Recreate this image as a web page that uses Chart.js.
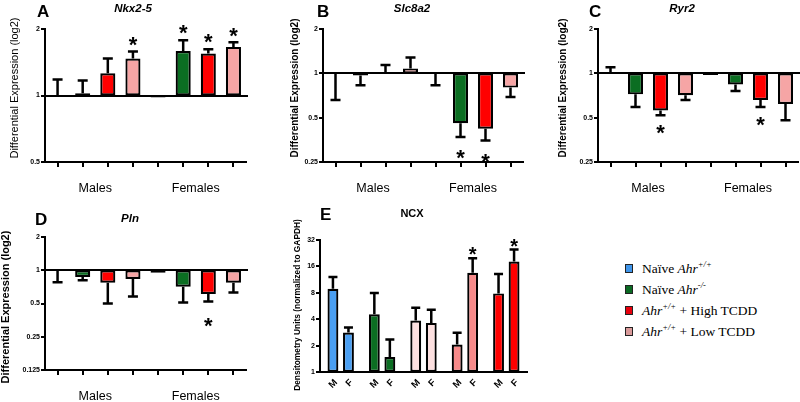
<!DOCTYPE html>
<html>
<head>
<meta charset="utf-8">
<script src="https://cdn.jsdelivr.net/npm/chart.js@4.4.1/dist/chart.umd.min.js"></script>
<style>
  body { margin: 0; background: #fff; width: 800px; height: 402px; position: relative; overflow: hidden; }
  canvas { position: absolute; }
  #legend { position: absolute; left: 625px; top: 258px; font-family: "Liberation Serif", "Times New Roman", serif; font-size: 13.5px; color: #000; }
  #legend .row { height: 21px; display: flex; align-items: center; white-space: nowrap; }
  #legend .sw { width: 6px; height: 7px; border: 1px solid #222; margin-right: 9px; }
  #legend sup { font-size: 8.5px; font-style: italic; position: relative; top: -5px; line-height: 0; vertical-align: baseline; }
</style>
</head>
<body>
<canvas id="chartA" width="265" height="195" style="left:0;top:0"></canvas>
<canvas id="chartB" width="270" height="195" style="left:265px;top:0"></canvas>
<canvas id="chartC" width="270" height="195" style="left:530px;top:0"></canvas>
<canvas id="chartD" width="265" height="207" style="left:0;top:195px"></canvas>
<canvas id="chartE" width="270" height="207" style="left:265px;top:195px"></canvas>
<div id="legend">
  <div class="row"><span class="sw" style="background:#3f95ea"></span>Naïve&nbsp;<i>Ahr</i><sup>+/+</sup></div>
  <div class="row"><span class="sw" style="background:#0b6a23"></span>Naïve&nbsp;<i>Ahr</i><sup>-/-</sup></div>
  <div class="row"><span class="sw" style="background:#e8000d"></span><i>Ahr</i><sup>+/+</sup>&nbsp;+ High TCDD</div>
  <div class="row"><span class="sw" style="background:#d99a9a"></span><i>Ahr</i><sup>+/+</sup>&nbsp;+ Low TCDD</div>
</div>
<script>
// bars: Males (naive +/+, naive -/-, high, low), then Females same order
const bars = ['M1', 'M2', 'M3', 'M4', 'F1', 'F2', 'F3', 'F4'];
const groups = ['Males', 'Females'];

const nkxVals = [1, 1.025, 1.26, 1.47, 0.98, 1.59, 1.55, 1.66];
const nkxErr  = [1.18, 1.17, 1.47, 1.58, 0.98, 1.78, 1.62, 1.74];
const nkxSig  = [0, 0, 0, 1, 0, 1, 1, 1];

const slcVals = [1, 0.965, 1.02, 1.08, 1, 0.458, 0.42, 0.80];
const slcErr  = [0.66, 0.83, 1.14, 1.28, 0.83, 0.37, 0.35, 0.69];
const slcSig  = [0, 0, 0, 0, 0, 1, 1, 0];

const ryrVals = [1, 0.72, 0.56, 0.71, 0.975, 0.84, 0.66, 0.62];
const ryrErr  = [1.10, 0.59, 0.52, 0.66, 0.975, 0.76, 0.59, 0.48];
const ryrSig  = [0, 0, 1, 0, 0, 0, 1, 0];

const plnVals = [1, 0.87, 0.77, 0.835, 0.95, 0.71, 0.61, 0.77];
const plnErr  = [0.78, 0.81, 0.50, 0.58, 0.94, 0.51, 0.52, 0.63];
const plnSig  = [0, 0, 0, 0, 0, 0, 1, 0];

// NCX densitometry, 5 treatment groups, male / female
const ncxGroups = ['G1', 'G2', 'G3', 'G4', 'G5'];
const ncxMale    = [8.9, 4.55, 3.86, 2.06, 7.88];
const ncxMaleErr = [12.1, 7.94, 5.42, 2.8, 13.1];
const ncxMaleSig = [0, 0, 0, 0, 0];
const ncxFem     = [2.82, 1.48, 3.63, 13.5, 18.2];
const ncxFemErr  = [3.21, 2.35, 5.14, 19.8, 24.9];
const ncxFemSig  = [0, 0, 0, 1, 1];

const logTicks   = [0.5, 1, 2];
const logTicks2  = [0.25, 0.5, 1, 2];
const logTicks3  = [0.125, 0.25, 0.5, 1, 2];
const ncxTicks   = [1, 2, 4, 8, 16, 32];

const geneColors = ['#3f95ea', '#0b6e22', '#ff0000', '#f6a5a5'];
const ncxColors  = ['#4a9ff2', '#0b6e22', '#fde0e0', '#f78a8a', '#ff0000'];

const SANS = '"Liberation Sans", Arial, sans-serif';

// error bars, stars, baseline and texts
const decor = {
  id: 'decor',
  afterDatasetsDraw(chart, args, o) {
    const { ctx, chartArea: ca, scales: { x, y } } = chart;
    ctx.save();
    ctx.strokeStyle = '#000';
    ctx.fillStyle = '#000';
    ctx.lineWidth = 2;
    if (o.baseline) {
      const yy = Math.round(y.getPixelForValue(1));
      ctx.beginPath();
      ctx.moveTo(ca.left, yy);
      ctx.lineTo(ca.right + o.baseExtra, yy);
      ctx.stroke();
    }
    ctx.lineWidth = 2.5;
    chart.data.datasets.forEach((ds, di) => {
      const meta = chart.getDatasetMeta(di);
      ds.data.forEach((d, i) => {
        const bar = meta.data[i];
        const v = d[1], e = ds.err[i];
        const y0 = y.getPixelForValue(v);
        const y1 = y.getPixelForValue(e);
        const up = e >= v && v >= 1 || (v === 1 && e > 1);
        if (Math.abs(y1 - y0) > 1) {
          ctx.beginPath();
          ctx.moveTo(bar.x, y0);
          ctx.lineTo(bar.x, y1);
          ctx.moveTo(bar.x - o.cap / 2, y1);
          ctx.lineTo(bar.x + o.cap / 2, y1);
          ctx.stroke();
        }
        if (ds.sig[i]) {
          const fs = o.starSize;
          ctx.font = 'bold ' + fs + 'px ' + SANS;
          ctx.textAlign = 'center';
          ctx.textBaseline = 'alphabetic';
          const edge = Math.abs(y1 - y0) > 1 ? y1 : y0;
          const cy = up ? edge - o.starGap : edge + o.starGap;
          ctx.fillText('*', bar.x, cy + fs * 0.6);
        }
      });
    });
    ctx.restore();
  },
  afterDraw(chart, args, o) {
    const { ctx, chartArea: ca, scales: { x } } = chart;
    ctx.save();
    ctx.fillStyle = '#000';
    ctx.textBaseline = 'alphabetic';
    // panel letter
    ctx.textAlign = 'left';
    ctx.font = 'bold 17px ' + SANS;
    ctx.fillText(o.letter, o.letterPos[0], o.letterPos[1]);
    // gene title
    ctx.textAlign = 'center';
    ctx.font = o.titleFont + SANS;
    ctx.fillText(o.title, o.titlePos[0], o.titlePos[1]);
    // y axis title
    ctx.save();
    ctx.translate(o.yTitlePos[0], o.yTitlePos[1]);
    ctx.rotate(-Math.PI / 2);
    ctx.textBaseline = 'middle';
    ctx.font = o.yTitleFont + SANS;
    ctx.fillText(o.yTitle, 0, 0);
    ctx.restore();
    // group labels under the axis
    if (o.groups) {
      ctx.font = '12.5px ' + SANS;
      o.groups.forEach((g, gi) => {
        const a = x.getPixelForValue(gi * 4 + 1);
        const b = x.getPixelForValue(gi * 4 + 2);
        ctx.fillText(g, (a + b) / 2, ca.bottom + 30);
      });
    }
    // M / F labels for the densitometry panel
    if (o.sexLabels) {
      ctx.font = 'bold 9.5px ' + SANS;
      chart.data.datasets.forEach((ds, di) => {
        const meta = chart.getDatasetMeta(di);
        meta.data.forEach(bar => {
          ctx.save();
          ctx.translate(bar.x + 3, ca.bottom + 9);
          ctx.rotate(-Math.PI / 4);
          ctx.textAlign = 'right';
          ctx.textBaseline = 'middle';
          ctx.fillText(o.sexLabels[di], 0, 0);
          ctx.restore();
        });
      });
    }
    ctx.restore();
  }
};

function yScale(min, max, ticks, yW) {
  return {
    type: 'logarithmic',
    min: min,
    max: max,
    afterBuildTicks: s => { s.ticks = ticks.map(v => ({ value: v })); },
    afterFit: s => { s.width = yW; },
    border: { color: '#000', width: 2 },
    grid: { drawOnChartArea: false, drawTicks: true, tickLength: 4, color: '#000', lineWidth: 2 },
    ticks: {
      color: '#000', padding: 1,
      font: { family: SANS, size: 7, weight: 'bold' },
      callback: v => String(v)
    }
  };
}

function genePanel(id, vals, err, sig, cfg) {
  const colors = [...geneColors, ...geneColors];
  new Chart(document.getElementById(id), {
    type: 'bar',
    data: {
      labels: bars,
      datasets: [{
        data: vals.map(v => [1, v]),
        err: err,
        sig: sig,
        backgroundColor: colors,
        borderColor: '#000',
        borderWidth: 2.2,
        borderSkipped: false,
        barPercentage: 0.6,
        categoryPercentage: 1
      }]
    },
    options: {
      responsive: false,
      animation: false,
      devicePixelRatio: 1,
      layout: { padding: { top: cfg.padTop, right: cfg.padRight, bottom: 0, left: 0 } },
      plugins: {
        legend: { display: false },
        tooltip: { enabled: false },
        decor: {
          baseline: true, baseExtra: cfg.baseExtra, cap: 10,
          starSize: 22, starGap: cfg.starGap,
          letter: cfg.letter, letterPos: cfg.letterPos,
          title: cfg.title, titlePos: cfg.titlePos, titleFont: 'italic bold 11.5px ',
          yTitle: 'Differential Expression (log2)', yTitlePos: cfg.yTitlePos, yTitleFont: cfg.yTitleFont,
          groups: groups
        }
      },
      scales: {
        x: {
          offset: true,
          afterFit: s => { s.height = cfg.xH; },
          border: { color: '#000', width: 2 },
          grid: { offset: false, drawOnChartArea: false, drawTicks: true, tickLength: 5, color: '#000', lineWidth: 2 },
          ticks: { display: false }
        },
        y: yScale(cfg.min, cfg.max, cfg.ticks, cfg.yW)
      }
    },
    plugins: [decor]
  });
}

genePanel('chartA', nkxVals, nkxErr, nkxSig, {
  min: 0.5, max: 2, ticks: logTicks, yW: 45, padTop: 29, padRight: 19, xH: 33, baseExtra: 2,
  starGap: 13, letter: 'A', letterPos: [37, 17], title: 'Nkx2-5', titlePos: [133, 12],
  yTitlePos: [15, 88], yTitleFont: '11px '
});
genePanel('chartB', slcVals, slcErr, slcSig, {
  min: 0.25, max: 2, ticks: logTicks2, yW: 58, padTop: 29, padRight: 12, xH: 33, baseExtra: 2,
  starGap: 15, letter: 'B', letterPos: [52, 17], title: 'Slc8a2', titlePos: [147, 12],
  yTitlePos: [30, 88], yTitleFont: 'bold 10px '
});
genePanel('chartC', ryrVals, ryrErr, ryrSig, {
  min: 0.25, max: 2, ticks: logTicks2, yW: 68, padTop: 29, padRight: 2, xH: 33, baseExtra: 2,
  starGap: 12, letter: 'C', letterPos: [59, 17], title: 'Ryr2', titlePos: [152, 12],
  yTitlePos: [33, 88], yTitleFont: 'bold 10px '
});
genePanel('chartD', plnVals, plnErr, plnSig, {
  min: 0.125, max: 2, ticks: logTicks3, yW: 45, padTop: 42, padRight: 19, xH: 32, baseExtra: 2,
  starGap: 18, letter: 'D', letterPos: [35, 30], title: 'Pln', titlePos: [130, 27],
  yTitlePos: [6, 112], yTitleFont: 'bold 11px '
});

// NCX densitometry panel
new Chart(document.getElementById('chartE'), {
  type: 'bar',
  data: {
    labels: ncxGroups,
    datasets: [
      { data: ncxMale.map(v => [1, v]), err: ncxMaleErr, sig: ncxMaleSig },
      { data: ncxFem.map(v => [1, v]), err: ncxFemErr, sig: ncxFemSig }
    ].map(ds => Object.assign(ds, {
      backgroundColor: ncxColors,
      borderColor: '#000',
      borderWidth: 2.2,
      borderSkipped: false,
      barPercentage: 0.7,
      categoryPercentage: 0.75
    }))
  },
  options: {
    responsive: false,
    animation: false,
    devicePixelRatio: 1,
    layout: { padding: { top: 45, right: 8, bottom: 0, left: 0 } },
    plugins: {
      legend: { display: false },
      tooltip: { enabled: false },
      decor: {
        baseline: false, baseExtra: 0, cap: 9,
        starSize: 20, starGap: 9,
        letter: 'E', letterPos: [55, 25], title: 'NCX', titlePos: [147, 22], titleFont: 'bold 11px ',
        yTitle: 'Densitometry Units (normalized to GAPDH)', yTitlePos: [33, 110], yTitleFont: 'bold 8.4px ',
        sexLabels: ['M', 'F']
      }
    },
    scales: {
      x: {
        offset: true,
        afterFit: s => { s.height = 30; },
        border: { color: '#000', width: 2 },
        grid: { display: false },
        ticks: { display: false }
      },
      y: yScale(1, 32, ncxTicks, 55)
    }
  },
  plugins: [decor]
});
</script>
</body>
</html>
